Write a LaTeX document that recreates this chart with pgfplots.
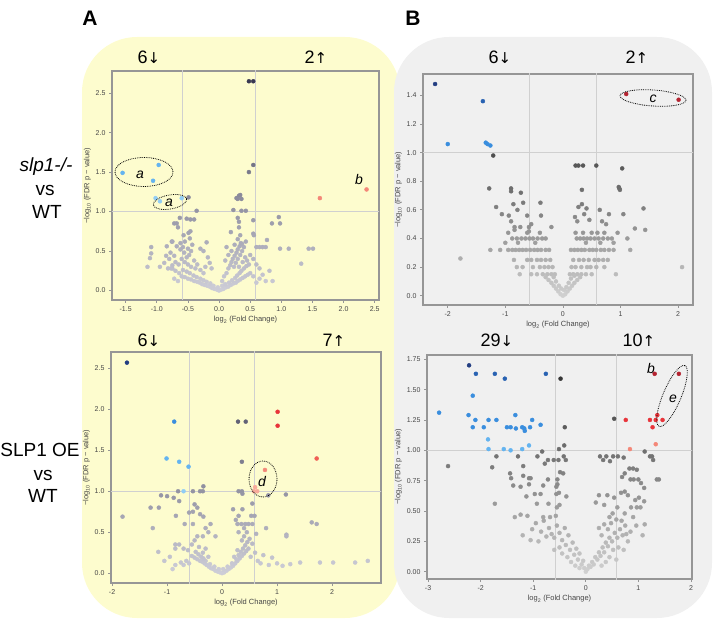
\documentclass[border=0pt]{standalone}
\usepackage{pgfplots}
\pgfplotsset{compat=1.18}
\usepackage{fontspec}
\setmainfont{Liberation Sans}
\newfontfamily\arrowfont{DejaVu Sans}

\definecolor{panelY}{RGB}{253,252,206}
\definecolor{panelG}{RGB}{240,240,240}
\definecolor{framec}{RGB}{150,150,150}
\definecolor{tickc}{RGB}{70,70,70}
\definecolor{thr}{RGB}{208,208,208}
\definecolor{cB1}{RGB}{35,62,130}
\definecolor{cB2}{RGB}{40,98,178}
\definecolor{cB3}{RGB}{58,142,222}
\definecolor{cB4}{RGB}{100,180,240}
\definecolor{cB5}{RGB}{145,205,245}
\definecolor{cR1}{RGB}{180,35,48}
\definecolor{cR2}{RGB}{232,52,58}
\definecolor{cR3}{RGB}{240,95,85}
\definecolor{cR4}{RGB}{244,135,120}
\definecolor{cR5}{RGB}{248,170,155}

\tikzset{
  thline/.style={draw=thr, line width=0.9pt},
  dots/.style={draw=black, densely dotted, line width=0.8pt},
}
\pgfplotsset{
  colormap={greyA}{rgb255=(206,206,216) rgb255=(55,55,80)},
  colormap={greyB}{rgb255=(208,208,208) rgb255=(45,45,45)},
  volc/.style={
    scale only axis, anchor=south west,
    axis line style={draw=framec, line width=1.1pt},
    tick align=outside, xtick pos=left, ytick pos=left,
    major tick length=3pt,
    tick style={draw=framec, line width=0.8pt},
    ticklabel style={font=\fontsize{7}{8}\selectfont, text=tickc},
    label style={font=\fontsize{7.5}{9}\selectfont, text=tickc},
    /pgf/number format/assume math mode=true,
    xlabel={log\textsubscript{2} (Fold Change)},
    ylabel={−log\textsubscript{10} (FDR p − value)},
    xlabel style={yshift=2pt},
    ylabel style={yshift=-2pt},
  },
  grey/.style={scatter, only marks, mark=*, mark size=#1, point meta=y,
    scatter/use mapped color={draw=mapped color, fill=mapped color}},
  sig/.style={scatter, only marks, mark=*, mark size=#1,
    point meta=explicit symbolic,
    scatter/classes={
      B1={mark=*,draw=cB1,fill=cB1}, B2={mark=*,draw=cB2,fill=cB2},
      B3={mark=*,draw=cB3,fill=cB3}, B4={mark=*,draw=cB4,fill=cB4},
      B5={mark=*,draw=cB5,fill=cB5}, R1={mark=*,draw=cR1,fill=cR1},
      R2={mark=*,draw=cR2,fill=cR2}, R3={mark=*,draw=cR3,fill=cR3},
      R4={mark=*,draw=cR4,fill=cR4}, R5={mark=*,draw=cR5,fill=cR5}}},
}
\newcommand{\cnt}[2]{#1{\arrowfont\fontsize{15}{16}\selectfont #2}}

\begin{document}
\begin{tikzpicture}
\path[use as bounding box] (0pt,0pt) rectangle (714pt,621pt);
% panel backgrounds
\fill[panelY, rounded corners=55pt] (82pt,3pt) rectangle (400pt,584pt);
\fill[panelG, rounded corners=55pt] (394pt,3pt) rectangle (712pt,584pt);

% panel letters
\node[font=\bfseries\fontsize{21}{24}\selectfont] at (90pt,603pt) {A};
\node[font=\bfseries\fontsize{21}{24}\selectfont] at (413pt,603pt) {B};

% row labels
\node[font=\itshape\fontsize{19}{22}\selectfont] at (46pt,454pt) {slp1-/-};
\node[font=\fontsize{19}{22}\selectfont] at (45pt,431pt) {vs};
\node[font=\fontsize{19}{22}\selectfont] at (47pt,409pt) {WT};
\node[font=\fontsize{19}{22}\selectfont] at (40pt,171pt) {SLP1 OE};
\node[font=\fontsize{19}{22}\selectfont] at (43pt,146pt) {vs};
\node[font=\fontsize{19}{22}\selectfont] at (43pt,125pt) {WT};

% counts of down / up regulated proteins
\begin{scope}[every node/.style={font=\fontsize{18}{20}\selectfont}]
\node at (149pt,564pt) {\cnt{6}{↓}};
\node at (316pt,564pt) {\cnt{2}{↑}};
\node at (500pt,564pt) {\cnt{6}{↓}};
\node at (637pt,564pt) {\cnt{2}{↑}};
\node at (149pt,281pt) {\cnt{6}{↓}};
\node at (334pt,281pt) {\cnt{7}{↑}};
\node at (497pt,281pt) {\cnt{29}{↓}};
\node at (639pt,281pt) {\cnt{10}{↑}};
\end{scope}

%================ A, top: slp1-/- vs WT
\begin{axis}[volc, at={(112pt,321pt)}, width=267pt, height=229pt,
  xmin=-1.72, xmax=2.57, ymin=-0.12, ymax=2.78,
  xtick={-1.5,-1,-0.5,0,0.5,1,1.5,2,2.5}, ytick={0,0.5,1,1.5,2,2.5},
  xticklabel style={/pgf/number format/.cd,fixed,fixed zerofill,precision=1},
  yticklabel style={/pgf/number format/.cd,fixed,fixed zerofill,precision=1}]
\draw[thline] (-0.585,-1) -- (-0.585,4);
\draw[thline] (0.585,-1) -- (0.585,4);
\draw[thline] (-3,1) -- (4,1);
\addplot[grey=2pt, colormap name=greyA, point meta min=0, point meta max=2.7] table {
x y
0.48 2.65
0.55 2.65
0.48 1.50
0.55 1.59
0.28 1.17
0.32 1.20
0.34 1.21
0.36 1.16
0.30 1.16
-0.49 1.18
0.23 1.02
0.36 1.01
0.43 1.01
-0.36 1.01
0.00 0.00
-0.03 0.01
0.03 0.01
-0.07 0.02
0.07 0.02
-0.11 0.03
0.11 0.04
-0.15 0.05
0.15 0.05
-0.19 0.06
0.19 0.07
-0.23 0.07
0.23 0.09
-0.27 0.08
0.27 0.10
-0.31 0.10
0.30 0.12
-0.35 0.11
0.34 0.14
-0.40 0.12
0.38 0.16
-0.45 0.14
0.42 0.18
-0.50 0.15
0.46 0.20
-0.55 0.17
0.50 0.22
-0.60 0.18
-0.02 0.04
0.05 0.06
-0.09 0.06
0.10 0.08
-0.14 0.09
0.16 0.10
-0.20 0.11
0.21 0.13
-0.25 0.13
0.26 0.16
-0.30 0.15
0.29 0.19
-0.36 0.17
0.33 0.22
-0.41 0.19
0.36 0.25
-0.47 0.22
0.40 0.28
-0.52 0.24
0.44 0.31
-0.58 0.26
-0.64 0.22
-0.70 0.25
-0.75 0.28
0.55 0.18
0.60 0.10
0.65 0.15
-0.66 0.12
-0.72 0.15
-0.45 0.30
-0.50 0.33
-0.55 0.36
-0.60 0.40
-0.52 0.42
-0.48 0.45
-0.56 0.48
-0.62 0.52
-0.58 0.55
-0.50 0.53
-0.45 0.50
-0.40 0.38
-0.35 0.33
-0.38 0.28
-0.30 0.26
-0.25 0.22
-0.65 0.33
-0.70 0.36
-0.75 0.32
-0.80 0.40
-0.85 0.44
-0.78 0.48
-0.72 0.44
-0.68 0.56
-0.75 0.62
-0.82 0.28
-0.88 0.35
-0.95 0.30
-1.09 0.55
-1.09 0.47
-1.11 0.41
-1.15 0.30
-0.84 0.56
-0.77 0.28
-0.62 0.60
-0.55 0.62
-0.43 0.58
-0.30 0.53
-0.25 0.50
-0.20 0.61
-0.18 0.42
-0.15 0.35
-0.12 0.28
-0.22 0.30
-0.68 0.85
-0.72 0.85
-0.63 0.92
-0.52 0.91
-0.46 0.90
-0.40 0.90
-0.49 0.73
-0.46 0.75
-0.57 0.70
-0.47 0.66
-0.76 0.62
-0.66 0.80
0.05 0.12
0.08 0.18
0.12 0.22
0.15 0.28
0.18 0.32
0.20 0.36
0.22 0.40
0.25 0.44
0.28 0.48
0.30 0.52
0.33 0.56
0.35 0.60
0.27 0.35
0.30 0.40
0.34 0.45
0.37 0.50
0.40 0.55
0.24 0.30
0.32 0.30
0.38 0.36
0.42 0.42
0.45 0.38
0.48 0.33
0.20 0.50
0.15 0.45
0.10 0.38
0.12 0.55
0.25 0.58
0.37 0.59
0.43 0.62
0.30 0.65
0.34 0.70
0.19 0.74
0.32 0.80
0.32 0.87
0.30 0.92
0.55 0.72
0.56 0.70
0.60 0.55
0.65 0.55
0.70 0.55
0.75 0.55
0.77 0.64
0.55 0.89
0.85 0.85
0.98 0.85
0.96 0.93
0.98 0.53
1.12 0.53
1.44 0.53
1.51 0.53
1.32 0.34
0.86 0.12
0.81 0.25
0.60 0.33
0.65 0.28
0.55 0.40
0.70 0.20
0.75 0.12
0.50 0.45
};
\addplot[sig=2pt] table[meta=c] {
x y c
-1.55 1.49 B4
-0.97 1.59 B4
-1.06 1.39 B4
-1.02 1.17 B5
-0.95 1.13 B5
-0.60 1.17 B5
1.62 1.17 R4
2.37 1.28 R4
};
\end{axis}

%================ A, bottom: SLP1 OE vs WT
\begin{axis}[volc, at={(111pt,38pt)}, width=270pt, height=231pt,
  xmin=-2.02, xmax=2.89, ymin=-0.12, ymax=2.70,
  xtick={-2,-1,0,1,2}, ytick={0,0.5,1,1.5,2,2.5},
  yticklabel style={/pgf/number format/.cd,fixed,fixed zerofill,precision=1}]
\draw[thline] (-0.585,-1) -- (-0.585,4);
\draw[thline] (0.585,-1) -- (0.585,4);
\draw[thline] (-3,1) -- (4,1);
\addplot[grey=2pt, colormap name=greyA, point meta min=0, point meta max=2.6] table {
x y
0.29 1.85
0.43 1.85
0.36 1.36
0.00 0.00
-0.04 0.01
0.04 0.01
-0.08 0.02
0.08 0.03
-0.12 0.03
0.12 0.05
-0.16 0.05
0.16 0.07
-0.20 0.06
0.20 0.09
-0.24 0.08
0.24 0.12
-0.28 0.10
0.28 0.15
-0.32 0.12
0.32 0.18
-0.36 0.14
0.36 0.21
-0.40 0.15
0.40 0.24
-0.45 0.17
0.44 0.27
-0.50 0.19
0.48 0.30
-0.55 0.21
-0.60 0.12
-0.65 0.15
-0.70 0.10
-0.75 0.13
0.02 0.05
-0.06 0.05
0.10 0.08
-0.14 0.08
0.18 0.12
-0.22 0.11
0.26 0.17
-0.30 0.15
0.30 0.22
-0.34 0.18
0.34 0.26
-0.38 0.20
0.38 0.30
-0.43 0.23
0.42 0.34
-0.48 0.26
0.46 0.38
-0.25 0.20
-0.35 0.25
-0.42 0.32
-0.30 0.30
0.22 0.20
0.28 0.28
0.36 0.40
0.40 0.45
0.50 0.42
0.55 0.36
0.52 0.20
0.60 0.25
0.65 0.15
0.70 0.12
0.75 0.22
0.91 0.19
1.00 0.12
1.24 0.11
1.42 0.13
1.78 0.13
2.02 0.13
2.42 0.13
2.65 0.15
0.85 0.10
1.10 0.09
-0.85 0.10
-0.95 0.20
-0.85 0.30
-0.78 0.35
-0.70 0.30
-0.62 0.28
-0.55 0.35
-0.50 0.40
-0.45 0.45
-0.35 0.45
-1.16 0.26
-0.85 0.35
-1.05 0.15
-0.90 0.05
-0.68 0.60
-0.53 0.60
-0.60 0.74
-0.53 0.75
-0.34 0.69
-0.21 0.60
-0.84 0.70
-0.78 0.88
-0.88 0.92
-1.00 0.94
-1.11 0.95
-1.30 0.80
-1.15 0.80
-1.81 0.69
-1.26 0.55
-0.80 1.00
-0.53 1.00
-0.40 1.00
-0.35 1.00
-0.34 1.06
-0.50 0.84
-0.45 0.80
-0.40 0.72
-0.30 0.55
-0.25 0.50
-0.12 0.45
0.28 0.60
0.35 0.60
0.42 0.60
0.48 0.60
0.55 0.60
0.59 0.70
0.53 0.70
0.20 0.78
0.37 0.78
0.30 0.70
0.25 0.65
0.80 0.55
1.63 0.62
1.72 0.60
1.17 0.47
1.17 0.45
0.55 0.85
0.30 1.00
0.36 1.00
0.37 0.97
0.84 0.95
1.16 0.96
0.45 0.50
0.40 0.55
0.30 0.50
0.62 0.48
};
\addplot[sig=2pt] table[meta=c] {
x y c
-1.73 2.57 B1
-0.87 1.85 B3
-1.01 1.40 B4
-0.78 1.36 B4
-0.61 1.30 B4
-0.70 1.00 B5
1.01 1.97 R2
1.01 1.80 R2
1.72 1.40 R3
0.78 1.26 R4
0.60 1.05 R5
0.64 1.00 R5
0.58 1.00 R5
};
\end{axis}

%================ B, top
\begin{axis}[volc, at={(423pt,316pt)}, width=270pt, height=231pt,
  xmin=-2.43, xmax=2.26, ymin=-0.065, ymax=1.55,
  xtick={-2,-1,0,1,2}, ytick={0,0.2,0.4,0.6,0.8,1.0,1.2,1.4},
  yticklabel style={/pgf/number format/.cd,fixed,fixed zerofill,precision=1}]
\draw[thline] (-0.585,-1) -- (-0.585,4);
\draw[thline] (0.585,-1) -- (0.585,4);
\draw[thline] (-3,1) -- (4,1);
\addplot[grey=2pt, colormap name=greyB, point meta min=0, point meta max=1.25] table {
x y
-1.21 0.98
-1.28 0.75
-1.16 0.62
-1.06 0.57
-0.94 0.56
-0.90 0.75
-0.90 0.73
-0.86 0.64
-0.79 0.60
-0.73 0.72
-0.69 0.65
-0.39 0.65
-0.38 0.56
-0.84 0.48
-0.84 0.46
-0.74 0.48
-0.59 0.48
-0.59 0.45
-0.20 0.48
0.22 0.91
0.27 0.91
0.35 0.91
0.58 0.91
1.03 0.89
0.33 0.74
0.98 0.75
0.99 0.74
0.97 0.76
0.33 0.64
0.27 0.62
0.41 0.61
0.37 0.57
0.46 0.53
0.64 0.60
0.80 0.57
0.75 0.50
1.05 0.57
1.40 0.61
1.25 0.47
1.43 0.46
2.07 0.20
-1.78 0.26
-1.26 0.32
-1.09 0.32
0.21 0.55
-0.55 0.50
-0.90 0.52
0.25 0.52
0.68 0.52
-0.62 0.56
-0.95 0.32
-0.88 0.32
-0.82 0.32
-0.76 0.32
-0.70 0.32
-0.64 0.32
-0.57 0.32
-0.50 0.32
-0.44 0.32
-0.38 0.32
-0.30 0.32
-0.24 0.32
0.14 0.32
0.20 0.32
0.26 0.32
0.32 0.32
0.38 0.32
0.46 0.32
0.52 0.32
0.58 0.32
0.66 0.32
0.72 0.32
0.80 0.32
0.88 0.32
1.17 0.32
-0.88 0.40
-0.80 0.40
-0.72 0.40
-0.65 0.40
-0.58 0.40
-0.52 0.40
-0.44 0.40
-0.36 0.40
-0.30 0.40
0.24 0.40
0.30 0.40
0.36 0.40
0.42 0.40
0.48 0.40
0.55 0.40
0.62 0.40
0.70 0.40
0.78 0.40
0.85 0.40
1.12 0.40
-0.95 0.44
-0.62 0.44
-0.40 0.44
0.22 0.44
0.35 0.44
0.50 0.44
0.60 0.44
0.72 0.44
0.95 0.44
-1.00 0.37
-0.78 0.37
-0.48 0.37
0.40 0.37
0.65 0.37
0.88 0.37
-0.85 0.25
-0.62 0.25
-0.55 0.25
-0.45 0.25
-0.38 0.25
-0.30 0.25
-0.22 0.25
0.18 0.25
0.28 0.25
0.36 0.25
0.45 0.25
0.55 0.25
0.62 0.25
0.70 0.25
0.78 0.25
-0.80 0.20
-0.70 0.20
-0.52 0.20
-0.40 0.20
-0.32 0.20
-0.25 0.20
-0.18 0.20
0.15 0.20
0.22 0.20
0.32 0.20
0.42 0.20
0.48 0.20
0.58 0.20
0.72 0.20
0.92 0.15
-0.75 0.15
-0.55 0.15
-0.45 0.15
-0.35 0.15
-0.27 0.15
-0.20 0.15
-0.14 0.15
0.12 0.15
0.18 0.15
0.25 0.15
0.32 0.15
0.40 0.15
0.50 0.15
0.00 0.00
-0.04 0.01
0.04 0.01
-0.08 0.03
0.08 0.03
-0.12 0.05
0.12 0.05
-0.16 0.07
0.16 0.07
-0.20 0.09
0.20 0.09
-0.25 0.11
0.25 0.11
-0.30 0.13
0.30 0.13
0.02 0.04
-0.03 0.05
0.06 0.06
-0.07 0.07
0.10 0.09
-0.12 0.10
0.14 0.12
-0.16 0.13
0.20 0.14
};
\addplot[sig=2pt] table[meta=c] {
x y c
-2.22 1.48 B1
-1.39 1.36 B2
-2.00 1.06 B3
-1.34 1.07 B3
-1.31 1.06 B3
-1.26 1.05 B3
1.10 1.41 R1
2.01 1.37 R1
};
\end{axis}

%================ B, bottom
\begin{axis}[volc, at={(427pt,42pt)}, width=265pt, height=224pt,
  xmin=-3.02, xmax=2.02, ymin=-0.06, ymax=1.785,
  xtick={-3,-2,-1,0,1,2}, ytick={0,0.25,0.5,0.75,1.0,1.25,1.5,1.75},
  yticklabel style={/pgf/number format/.cd,fixed,fixed zerofill,precision=2}]
\draw[thline] (-0.585,-1) -- (-0.585,4);
\draw[thline] (0.585,-1) -- (0.585,4);
\draw[thline] (-4,1) -- (4,1);
\addplot[grey=2pt, colormap name=greyB, point meta min=0, point meta max=1.7] table {
x y
-0.48 1.59
-0.40 1.19
0.54 1.26
-0.41 1.04
-0.51 1.01
-0.83 0.99
-0.92 0.95
-0.78 0.89
-0.72 0.92
-0.61 0.92
-0.52 0.92
-0.42 0.95
-0.38 0.92
-0.43 0.81
-0.49 0.82
-1.29 0.95
-1.19 0.87
-1.70 0.95
-1.78 0.86
-2.62 0.87
-1.44 0.81
-1.42 0.77
-1.38 0.71
-1.19 0.79
-1.08 0.77
-1.05 0.77
-1.24 0.70
-1.08 0.72
-0.97 0.64
-0.86 0.64
-0.81 0.71
-0.72 0.76
-0.54 0.72
-0.56 0.64
-0.71 0.56
-0.93 0.56
-1.13 0.62
-1.73 0.56
-1.24 0.47
-1.11 0.46
-0.81 0.45
-0.57 0.46
-0.55 0.53
-0.37 0.62
-0.50 0.55
-0.51 0.65
-0.56 0.70
-0.54 0.76
0.27 0.95
0.39 0.95
0.52 0.95
0.61 0.95
0.72 0.94
0.33 0.92
0.46 0.91
1.12 0.99
1.22 0.95
1.26 0.95
1.28 0.92
1.35 0.76
1.39 0.76
0.90 0.85
0.97 0.84
0.83 0.85
0.74 0.81
0.69 0.78
0.85 0.76
0.91 0.76
1.00 0.76
1.05 0.73
1.11 0.69
1.01 0.61
0.94 0.59
1.11 0.58
0.97 0.53
1.04 0.53
0.86 0.53
0.60 0.53
0.67 0.65
0.74 0.66
0.80 0.63
0.54 0.61
0.41 0.63
0.25 0.63
0.19 0.57
0.35 0.55
0.51 0.48
0.74 0.48
0.45 0.45
0.58 0.43
0.68 0.42
0.35 0.39
0.77 0.31
0.96 0.38
1.12 0.39
-1.20 0.30
-1.05 0.26
-0.95 0.40
-0.90 0.25
-0.85 0.33
-0.80 0.42
-0.75 0.29
-0.70 0.36
-0.65 0.31
-0.60 0.28
-0.55 0.38
-0.50 0.32
-0.45 0.26
-0.40 0.36
-0.38 0.22
-0.33 0.30
-0.30 0.18
-0.25 0.24
-0.22 0.14
-0.18 0.19
-0.15 0.10
-0.12 0.15
-0.08 0.06
-0.05 0.09
-0.03 0.03
-1.35 0.45
-1.02 0.35
-0.68 0.45
-0.50 0.20
-0.45 0.15
-0.60 0.18
-0.35 0.12
-0.28 0.08
-0.20 0.05
-0.12 0.03
0.00 0.00
0.03 0.02
0.06 0.05
0.09 0.04
0.12 0.08
0.15 0.06
0.18 0.12
0.22 0.10
0.25 0.16
0.28 0.13
0.32 0.20
0.35 0.16
0.38 0.24
0.42 0.21
0.45 0.28
0.50 0.25
0.55 0.32
0.60 0.28
0.65 0.35
0.70 0.30
0.75 0.38
0.52 0.18
0.45 0.12
0.38 0.08
0.62 0.20
0.30 0.05
0.80 0.25
0.72 0.18
0.58 0.10
0.42 0.35
0.30 0.30
0.25 0.36
0.48 0.40
0.85 0.33
0.90 0.45
1.08 0.30
};
\addplot[sig=2pt] table[meta=c] {
x y c
-2.22 1.70 B1
-2.09 1.63 B2
-1.73 1.63 B2
-1.54 1.59 B2
-0.76 1.63 B2
-2.15 1.45 B3
-2.79 1.31 B3
-2.23 1.29 B3
-1.34 1.29 B3
-2.10 1.25 B3
-1.85 1.25 B3
-1.70 1.25 B3
-1.02 1.25 B3
-2.15 1.19 B3
-1.94 1.19 B3
-1.50 1.19 B3
-1.43 1.19 B3
-1.21 1.19 B3
-1.06 1.19 B3
-1.33 1.18 B3
-1.17 1.18 B3
-0.86 1.21 B3
-1.86 1.09 B4
-1.85 1.01 B4
-1.56 1.01 B4
-1.43 1.00 B4
-1.21 1.01 B4
-1.08 1.04 B4
-1.16 1.16 B3
1.31 1.63 R1
1.77 1.63 R1
0.76 1.25 R2
1.22 1.25 R2
1.33 1.25 R2
1.36 1.29 R2
1.27 1.19 R2
1.46 1.25 R2
0.84 1.01 R4
1.33 1.05 R4
};
\end{axis}

% annotations
\begin{scope}[every node/.style={font=\itshape\fontsize{14}{16}\selectfont}]
\draw[dots] (144pt,449pt) ellipse [x radius=29pt, y radius=14.5pt];
\node at (140pt,446pt) {a};
\draw[dots, rotate around={10:(170pt,419pt)}] (170pt,419pt) ellipse [x radius=17pt, y radius=7pt];
\node at (169pt,418pt) {a};
\node at (359pt,441pt) {b};
\draw[dots, rotate around={-4:(653pt,523pt)}] (653pt,523pt) ellipse [x radius=33pt, y radius=8pt];
\node at (653pt,522pt) {c};
\draw[dots] (263pt,142pt) ellipse [x radius=14pt, y radius=18pt];
\node at (262pt,140pt) {d};
\node at (651pt,253pt) {b};
\draw[dots, rotate around={67:(672pt,225pt)}] (672pt,225pt) ellipse [x radius=33pt, y radius=9pt];
\node at (673pt,222pt) {e};
\end{scope}
\end{tikzpicture}
\end{document}
